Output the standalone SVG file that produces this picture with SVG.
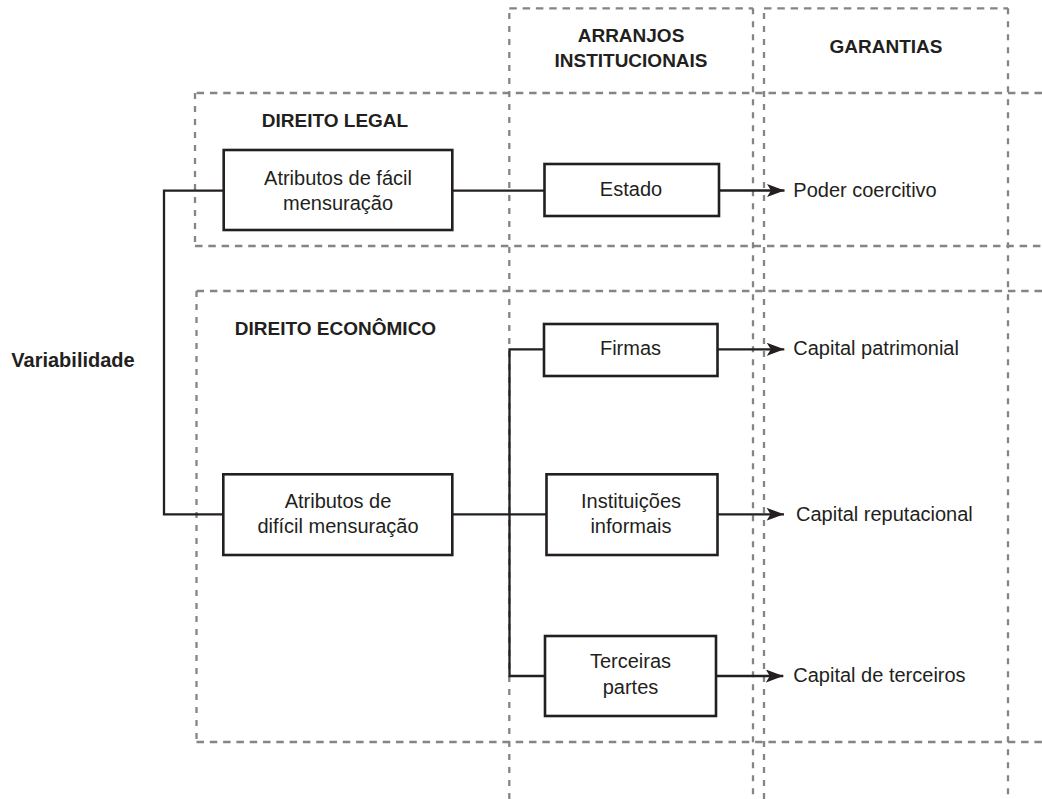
<svg xmlns="http://www.w3.org/2000/svg" width="1042" height="799" viewBox="0 0 1042 799">
<style>
.bg{fill:#ffffff}
.dh{fill:none;stroke:#858585;stroke-width:2.3;stroke-dasharray:7.5 5.8}
.dv{fill:none;stroke:#858585;stroke-width:2.3;stroke-dasharray:6 7}
.box{fill:#ffffff;stroke:#231f20;stroke-width:2.6}
.con{fill:none;stroke:#231f20;stroke-width:2.3}
.t{font-family:"Liberation Sans",Arial,sans-serif;font-size:20px;fill:#231f20;text-anchor:middle}
.lbl{font-family:"Liberation Sans",Arial,sans-serif;font-size:20px;fill:#231f20}
.h{font-family:"Liberation Sans",Arial,sans-serif;font-size:19px;font-weight:bold;fill:#231f20;text-anchor:middle}
</style>
<defs>
<marker id="ah" markerUnits="userSpaceOnUse" markerWidth="20" markerHeight="14" refX="17.5" refY="6.5" orient="auto">
<path d="M0,0 L17.5,6.5 L0,13 L4,6.5 Z" fill="#231f20"/>
</marker>
</defs>
<rect class="bg" x="0" y="0" width="1042" height="799"/>
<g id="regions">
<path class="dv" d="M509.3,799 V8.3"/>
<path class="dv" d="M753,8.3 V799"/>
<path class="dh" d="M509.3,8.3 H753"/>
<path class="dv" d="M764,799 V8.3"/>
<path class="dv" d="M1008,8.3 V799"/>
<path class="dh" d="M764,8.3 H1008"/>
<path class="dh" d="M1042,93 H195 M195,246 H1042"/>
<path class="dv" d="M195,93 V246"/>
<path class="dh" d="M1042,291 H196.5 M196.5,742 H1042"/>
<path class="dv" d="M196.5,291 V742"/>
</g>
<g id="headers">
<text class="h" x="631" y="41.7">ARRANJOS</text>
<text class="h" x="631" y="66.7">INSTITUCIONAIS</text>
<text class="h" x="886" y="53.3">GARANTIAS</text>
<text class="h" x="335" y="126.7">DIREITO LEGAL</text>
<text class="h" x="335.5" y="335">DIREITO ECONÔMICO</text>
<text class="h" x="73" y="366.7" style="font-size:20px">Variabilidade</text>
</g>
<g id="connectors">
<path class="con" d="M223.7,190.7 H164 V514.3 H223.3"/>
<path class="con" d="M452.3,190.7 H544.5"/>
<path class="con" d="M452.3,514.3 H546.5"/>
<path class="con" d="M544,349.3 H509.5 V676 H545"/>
<path class="con" d="M719,190.5 H784.5" marker-end="url(#ah)"/>
<path class="con" d="M717.5,349.3 H784.3" marker-end="url(#ah)"/>
<path class="con" d="M717.5,514.3 H784" marker-end="url(#ah)"/>
<path class="con" d="M716,676 H783.3" marker-end="url(#ah)"/>
</g>
<g id="node-facil">
<rect class="box" x="223.7" y="150" width="228.6" height="80"/>
<text class="t" x="338" y="185">Atributos de fácil</text>
<text class="t" x="338" y="210">mensuração</text>
</g>
<g id="node-dificil">
<rect class="box" x="223.3" y="474.3" width="229" height="80.7"/>
<text class="t" x="338" y="508.3">Atributos de</text>
<text class="t" x="338" y="533.3">difícil mensuração</text>
</g>
<g id="node-estado">
<rect class="box" x="544.5" y="164" width="174.5" height="52"/>
<text class="t" x="631" y="195.5">Estado</text>
</g>
<g id="node-firmas">
<rect class="box" x="544" y="324" width="173.5" height="52"/>
<text class="t" x="630.5" y="355">Firmas</text>
</g>
<g id="node-instituicoes">
<rect class="box" x="546.5" y="474.3" width="171" height="80.7"/>
<text class="t" x="631" y="507.7">Instituições</text>
<text class="t" x="631" y="532.7">informais</text>
</g>
<g id="node-terceiras">
<rect class="box" x="545" y="636" width="171" height="80"/>
<text class="t" x="630.5" y="668.3">Terceiras</text>
<text class="t" x="630.5" y="693.5">partes</text>
</g>
<g id="garantias">
<text class="lbl" x="793.3" y="196.7">Poder coercitivo</text>
<text class="lbl" x="793.3" y="355">Capital patrimonial</text>
<text class="lbl" x="796" y="520.7">Capital reputacional</text>
<text class="lbl" x="793.3" y="681.7">Capital de terceiros</text>
</g>
</svg>
